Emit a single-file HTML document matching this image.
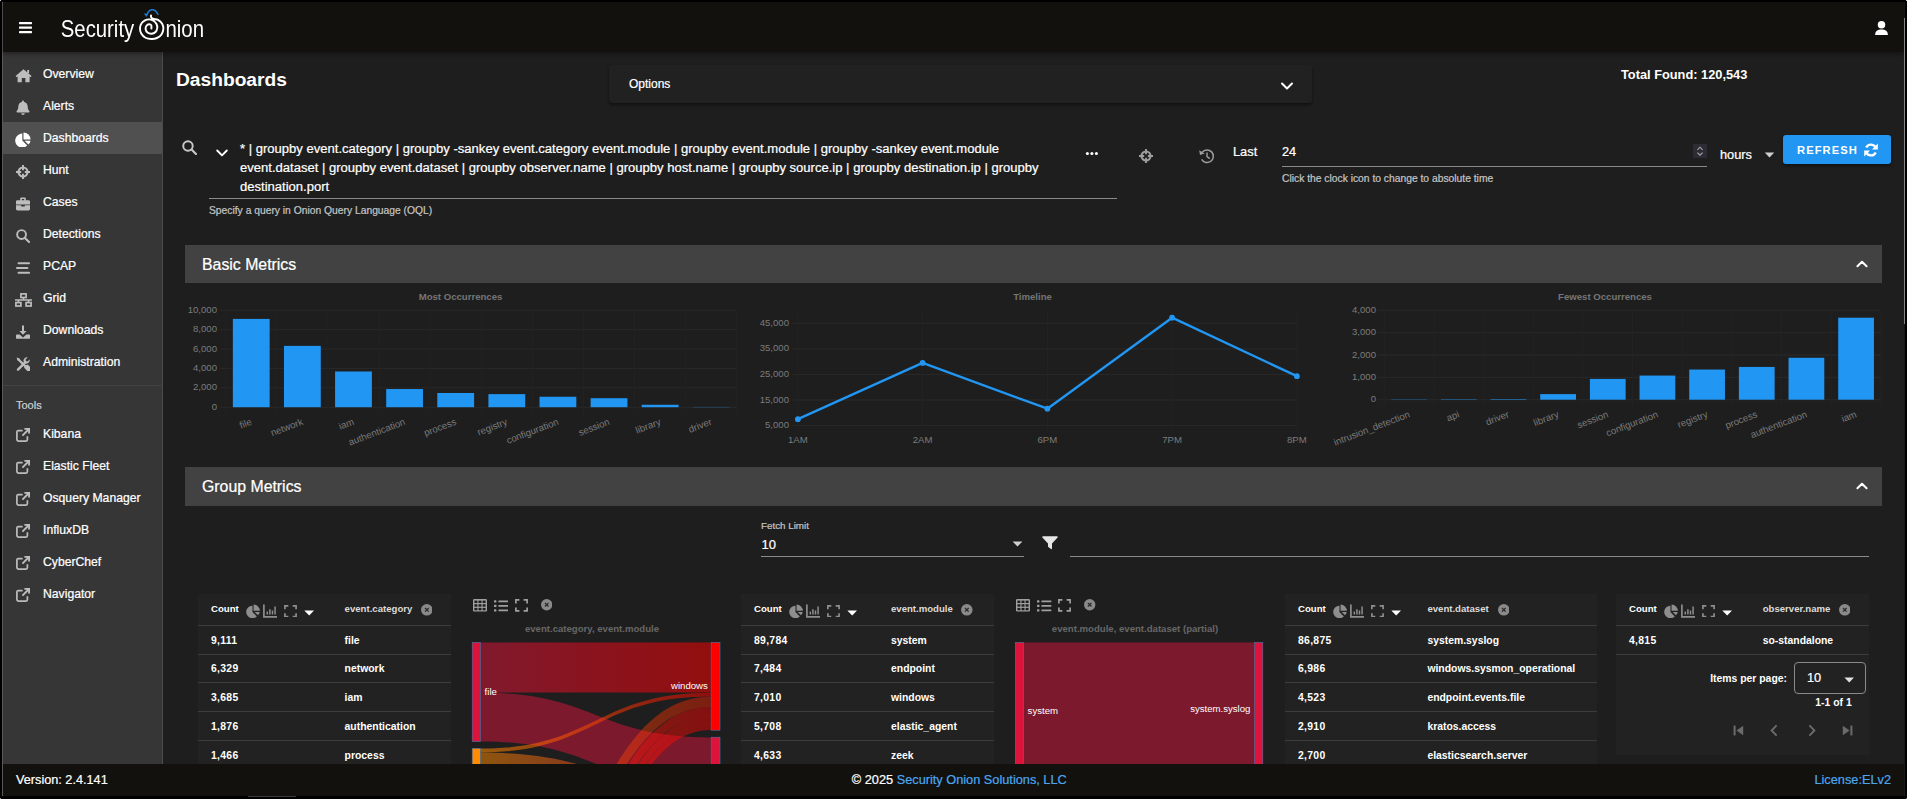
<!DOCTYPE html>
<html><head><meta charset="utf-8"><title>Security Onion - Dashboards</title>
<style>
html,body{margin:0;padding:0;background:#000;overflow:hidden;}
body{width:1907px;height:799px;position:relative;font-family:"Liberation Sans",sans-serif;}
.b{position:absolute;display:block;}
.t{position:absolute;white-space:nowrap;font-family:"Liberation Sans",sans-serif;-webkit-text-stroke:0.22px currentColor;}
</style></head><body>
<div class="b" style="left:2px;top:2px;width:1px;height:794px;background:#5a5a5a;"></div>
<div class="b" style="left:3px;top:2px;width:1901px;height:794px;background:#1e1e1e;"></div>
<div class="b" style="left:1904px;top:2px;width:1px;height:794px;background:#17181c;"></div>
<div class="b" style="left:3px;top:2px;width:1901px;height:50px;background:#12110d;box-shadow:0 2px 4px rgba(0,0,0,.35);z-index:5;"></div>
<svg class="b" style="left:19px;top:21px;z-index:6;" width="14" height="13" viewBox="0 0 14 13"><rect x="0" y="1" width="13" height="2.2" rx="0.6" fill="#fff"/><rect x="0" y="5.5" width="13" height="2.2" rx="0.6" fill="#fff"/><rect x="0" y="10" width="13" height="2.2" rx="0.6" fill="#fff"/></svg>
<svg class="b" style="left:50px;top:2px;z-index:6;opacity:0.999;" width="170" height="50" viewBox="0 0 170 50"><defs><mask id="lm" maskUnits="userSpaceOnUse" x="0" y="0" width="170" height="50"><g font-family="Liberation Sans, sans-serif" font-size="23.4" fill="#fff"><text x="10.8" y="35.1" textLength="73.4" lengthAdjust="spacingAndGlyphs">Security</text><text x="115.4" y="35.1" textLength="38.6" lengthAdjust="spacingAndGlyphs">nion</text></g></mask></defs><rect x="0" y="0" width="170" height="50" fill="#fff" mask="url(#lm)"/><path d="M101.00 13.40 C101.04 13.75 100.83 14.90 101.25 15.50 C101.67 16.10 102.38 16.60 103.50 17.00 C104.62 17.40 106.58 17.15 108.00 17.90 C109.42 18.65 111.10 20.07 112.00 21.50 C112.90 22.93 113.48 24.67 113.40 26.50 C113.32 28.33 112.57 30.92 111.50 32.50 C110.43 34.08 108.67 35.25 107.00 36.00 C105.33 36.75 103.42 37.04 101.50 37.00 C99.58 36.96 97.21 36.67 95.50 35.75 C93.79 34.83 92.17 33.12 91.25 31.50 C90.33 29.88 89.92 27.75 90.00 26.00 C90.08 24.25 90.83 22.32 91.75 21.00 C92.67 19.68 94.21 18.70 95.50 18.10 C96.79 17.50 98.17 17.29 99.50 17.40 C100.83 17.51 102.33 17.98 103.50 18.75 C104.67 19.52 105.88 20.79 106.50 22.00 C107.12 23.21 107.42 24.67 107.25 26.00 C107.08 27.33 106.46 29.04 105.50 30.00 C104.54 30.96 102.83 31.67 101.50 31.75 C100.17 31.83 98.48 31.29 97.50 30.50 C96.52 29.71 95.77 28.12 95.60 27.00 C95.43 25.88 95.93 24.54 96.50 23.75 C97.07 22.96 98.21 22.33 99.00 22.25 C99.79 22.17 100.85 22.54 101.25 23.25 C101.65 23.96 101.38 25.96 101.40 26.50" fill="none" stroke="#fff" stroke-width="1.95" stroke-linecap="round"/><path d="M96.90 13.10 C97.21 12.46 97.90 10.16 98.75 9.25 C99.60 8.34 100.88 7.71 102.00 7.65 C103.12 7.59 104.46 8.05 105.50 8.90 C106.54 9.75 107.79 12.11 108.25 12.75" fill="none" stroke="#1f7ad6" stroke-width="1.5" stroke-linecap="butt"/><path d="M93.90 11.30 L97.90 12.00 L96.15 15.10 z" fill="#1f7ad6"/></svg>
<svg class="b" style="left:1873.8px;top:19.6px;z-index:6;" width="15" height="16" viewBox="0 0 16 17"><circle cx="8" cy="5" r="4" fill="#fff"/><path d="M1.2 16 C1.2 11.8 3.8 10 8 10 C12.2 10 14.8 11.8 14.8 16 z" fill="#fff"/></svg>
<div class="b" style="left:1904px;top:18px;width:1px;height:306px;background:#858585;z-index:9;"></div>
<div class="b" style="left:3px;top:52px;width:159px;height:712px;background:#363636;"></div>
<div class="b" style="left:162px;top:52px;width:1px;height:712px;background:#4c4c4c;"></div>
<div class="b" style="left:3px;top:122px;width:159px;height:32px;background:#505050;"></div>
<svg class="b" style="left:14.8px;top:68.0px;" width="17" height="15" viewBox="0 0 17 15"><path fill="#bdbdbd" d="M8.5 1.2 L16.6 8.1 L15.6 9.3 L14.6 8.5 V14.2 H10.4 V10 H6.8 V14.2 H2.6 V8.5 L1.6 9.3 L0.6 8.1 Z"/><rect fill="#bdbdbd" x="12.2" y="2" width="1.9" height="3.2"/></svg>
<div class="t" style="left:43px;top:64.0px;font-size:12.2px;line-height:20px;color:#fff;font-weight:normal;">Overview</div>
<svg class="b" style="left:16.3px;top:100.0px;" width="14" height="15" viewBox="0 0 14 15"><path fill="#bdbdbd" d="M7 0.6 a1 1 0 0 1 1 1 v0.4 c2.3 0.45 3.7 2.3 3.7 4.6 c0 2.6 0.9 3.6 1.6 4.4 c0.5 0.6 0.1 1.4 -0.6 1.4 H1.3 c-0.7 0 -1.1 -0.8 -0.6 -1.4 c0.7 -0.8 1.6 -1.8 1.6 -4.4 c0 -2.3 1.4 -4.15 3.7 -4.6 v-0.4 a1 1 0 0 1 1 -1 z M5.2 13.2 h3.6 a1.8 1.8 0 0 1 -3.6 0 z"/></svg>
<div class="t" style="left:43px;top:96.0px;font-size:12.2px;line-height:20px;color:#fff;font-weight:normal;">Alerts</div>
<svg class="b" style="left:15.3px;top:132.0px;" width="16" height="15" viewBox="0 0 16 15"><path fill="#fff" d="M7.3 1.6 V8.6 L12.2 13.5 A7 7 0 1 1 7.3 1.6 z"/><path fill="#fff" d="M8.5 0.4 A7 7 0 0 1 15.5 7.4 H8.5 z"/><path fill="#fff" d="M9.6 8.7 H15.5 A7 7 0 0 1 13.4 12.6 z"/></svg>
<div class="t" style="left:43px;top:128.0px;font-size:12.2px;line-height:20px;color:#fff;font-weight:normal;">Dashboards</div>
<svg class="b" style="left:16.3px;top:164.5px;" width="14" height="14" viewBox="0 0 14 14"><circle cx="7" cy="7" r="4.5" fill="none" stroke="#bdbdbd" stroke-width="2.1"/><path stroke="#bdbdbd" stroke-width="1.9" d="M7 0 V5.2 M7 8.8 V14 M0 7 H5.2 M8.8 7 H14" fill="none"/></svg>
<div class="t" style="left:43px;top:160.0px;font-size:12.2px;line-height:20px;color:#fff;font-weight:normal;">Hunt</div>
<svg class="b" style="left:16.3px;top:196.5px;" width="14" height="14" viewBox="0 0 14 14"><path fill="#bdbdbd" d="M4.2 3.2 V1.6 a1 1 0 0 1 1 -1 h3.6 a1 1 0 0 1 1 1 V3.2 h2.8 a1.4 1.4 0 0 1 1.4 1.4 V7.4 H0 V4.6 a1.4 1.4 0 0 1 1.4 -1.4 z M5.8 2.1 V3.2 H8.2 V2.1 z"/><path fill="#bdbdbd" d="M0 8.3 H5.2 V9.6 H8.8 V8.3 H14 V12 a1.4 1.4 0 0 1 -1.4 1.4 H1.4 a1.4 1.4 0 0 1 -1.4 -1.4 z"/></svg>
<div class="t" style="left:43px;top:192.0px;font-size:12.2px;line-height:20px;color:#fff;font-weight:normal;">Cases</div>
<svg class="b" style="left:16.3px;top:228.5px;" width="14" height="14" viewBox="0 0 14.6 14.6"><circle cx="5.8" cy="5.8" r="4.6" fill="none" stroke="#bdbdbd" stroke-width="2.0"/><path d="M9.3 9.3 L13.6 13.6" stroke="#bdbdbd" stroke-width="2.2" stroke-linecap="round"/></svg>
<div class="t" style="left:43px;top:224.0px;font-size:12.2px;line-height:20px;color:#fff;font-weight:normal;">Detections</div>
<svg class="b" style="left:16.3px;top:260.5px;" width="14" height="14" viewBox="0 0 14 14"><rect fill="#bdbdbd" x="1.6" y="1.2" width="12.4" height="2" rx="0.9"/><rect fill="#bdbdbd" x="0" y="6" width="12.4" height="2" rx="0.9"/><rect fill="#bdbdbd" x="1.6" y="10.8" width="12.4" height="2" rx="0.9"/></svg>
<div class="t" style="left:43px;top:256.0px;font-size:12.2px;line-height:20px;color:#fff;font-weight:normal;">PCAP</div>
<svg class="b" style="left:14.8px;top:292.5px;" width="17" height="14" viewBox="0 0 17 14"><rect x="5.9" y="0.9" width="5.2" height="3.6" fill="none" stroke="#bdbdbd" stroke-width="1.7"/><rect x="0.9" y="9.6" width="5" height="3.4" fill="none" stroke="#bdbdbd" stroke-width="1.7"/><rect x="11.1" y="9.6" width="5" height="3.4" fill="none" stroke="#bdbdbd" stroke-width="1.7"/><path d="M0 7.1 H17 M8.5 4.6 V7.1 M3.4 7.1 V9 M13.6 7.1 V9" stroke="#bdbdbd" stroke-width="1.5" fill="none"/></svg>
<div class="t" style="left:43px;top:288.0px;font-size:12.2px;line-height:20px;color:#fff;font-weight:normal;">Grid</div>
<svg class="b" style="left:16.3px;top:324.5px;" width="14" height="14" viewBox="0 0 14 14"><path fill="#bdbdbd" d="M6 0.4 H8 V6 H10.6 L7 9.8 L3.4 6 H6 z"/><path fill="#bdbdbd" d="M0.9 9.6 H3.6 L7 12.6 L10.4 9.6 H13.1 a0.9 0.9 0 0 1 0.9 0.9 V12.9 a0.9 0.9 0 0 1 -0.9 0.9 H0.9 a0.9 0.9 0 0 1 -0.9 -0.9 V10.5 a0.9 0.9 0 0 1 0.9 -0.9 z"/></svg>
<div class="t" style="left:43px;top:320.0px;font-size:12.2px;line-height:20px;color:#fff;font-weight:normal;">Downloads</div>
<svg class="b" style="left:16.3px;top:356.5px;" width="14" height="14" viewBox="0 0 14 14"><path d="M2.2 2.2 L12.4 12.4" stroke="#bdbdbd" stroke-width="2.2" stroke-linecap="round"/><path d="M0.5 0.5 L3.4 1.6 L4.2 4.2 L1.6 3.4 z" fill="#bdbdbd"/><path d="M9.6 10.4 L12.2 13 a1 1 0 0 0 1.6 -1.6 L11.2 8.8" stroke="#bdbdbd" stroke-width="2.6" fill="none" stroke-linecap="round"/><path d="M2 12.6 L9.2 5.4" stroke="#bdbdbd" stroke-width="2.4" stroke-linecap="round"/><path d="M13.6 2.4 L11.6 4.4 L9.9 4.1 L9.6 2.4 L11.6 0.4 A3.4 3.4 0 0 0 7.6 4.6 L8.6 6.4 L10.4 6.6 A3.4 3.4 0 0 0 13.6 2.4 z" fill="#bdbdbd"/></svg>
<div class="t" style="left:43px;top:352.0px;font-size:12.2px;line-height:20px;color:#fff;font-weight:normal;">Administration</div>
<div class="b" style="left:3px;top:385px;width:159px;height:1px;background:#424242;"></div>
<div class="t" style="left:16px;top:395.0px;font-size:11px;line-height:20px;color:#d0d0d0;font-weight:normal;">Tools</div>
<svg class="b" style="left:16px;top:428px;" width="14" height="14" viewBox="0 0 14 14"><path d="M6.6 2.6 H2.4 a1.5 1.5 0 0 0 -1.5 1.5 V11.6 a1.5 1.5 0 0 0 1.5 1.5 H9.9 a1.5 1.5 0 0 0 1.5 -1.5 V8.2" fill="none" stroke="#bdbdbd" stroke-width="1.7"/><path d="M8.4 0.9 H13.1 V5.6 M13 1 L6.4 7.6" fill="none" stroke="#bdbdbd" stroke-width="1.9"/></svg>
<div class="t" style="left:43px;top:424.0px;font-size:12.2px;line-height:20px;color:#fff;font-weight:normal;">Kibana</div>
<svg class="b" style="left:16px;top:460px;" width="14" height="14" viewBox="0 0 14 14"><path d="M6.6 2.6 H2.4 a1.5 1.5 0 0 0 -1.5 1.5 V11.6 a1.5 1.5 0 0 0 1.5 1.5 H9.9 a1.5 1.5 0 0 0 1.5 -1.5 V8.2" fill="none" stroke="#bdbdbd" stroke-width="1.7"/><path d="M8.4 0.9 H13.1 V5.6 M13 1 L6.4 7.6" fill="none" stroke="#bdbdbd" stroke-width="1.9"/></svg>
<div class="t" style="left:43px;top:456.0px;font-size:12.2px;line-height:20px;color:#fff;font-weight:normal;">Elastic Fleet</div>
<svg class="b" style="left:16px;top:492px;" width="14" height="14" viewBox="0 0 14 14"><path d="M6.6 2.6 H2.4 a1.5 1.5 0 0 0 -1.5 1.5 V11.6 a1.5 1.5 0 0 0 1.5 1.5 H9.9 a1.5 1.5 0 0 0 1.5 -1.5 V8.2" fill="none" stroke="#bdbdbd" stroke-width="1.7"/><path d="M8.4 0.9 H13.1 V5.6 M13 1 L6.4 7.6" fill="none" stroke="#bdbdbd" stroke-width="1.9"/></svg>
<div class="t" style="left:43px;top:488.0px;font-size:12.2px;line-height:20px;color:#fff;font-weight:normal;">Osquery Manager</div>
<svg class="b" style="left:16px;top:524px;" width="14" height="14" viewBox="0 0 14 14"><path d="M6.6 2.6 H2.4 a1.5 1.5 0 0 0 -1.5 1.5 V11.6 a1.5 1.5 0 0 0 1.5 1.5 H9.9 a1.5 1.5 0 0 0 1.5 -1.5 V8.2" fill="none" stroke="#bdbdbd" stroke-width="1.7"/><path d="M8.4 0.9 H13.1 V5.6 M13 1 L6.4 7.6" fill="none" stroke="#bdbdbd" stroke-width="1.9"/></svg>
<div class="t" style="left:43px;top:520.0px;font-size:12.2px;line-height:20px;color:#fff;font-weight:normal;">InfluxDB</div>
<svg class="b" style="left:16px;top:556px;" width="14" height="14" viewBox="0 0 14 14"><path d="M6.6 2.6 H2.4 a1.5 1.5 0 0 0 -1.5 1.5 V11.6 a1.5 1.5 0 0 0 1.5 1.5 H9.9 a1.5 1.5 0 0 0 1.5 -1.5 V8.2" fill="none" stroke="#bdbdbd" stroke-width="1.7"/><path d="M8.4 0.9 H13.1 V5.6 M13 1 L6.4 7.6" fill="none" stroke="#bdbdbd" stroke-width="1.9"/></svg>
<div class="t" style="left:43px;top:552.0px;font-size:12.2px;line-height:20px;color:#fff;font-weight:normal;">CyberChef</div>
<svg class="b" style="left:16px;top:588px;" width="14" height="14" viewBox="0 0 14 14"><path d="M6.6 2.6 H2.4 a1.5 1.5 0 0 0 -1.5 1.5 V11.6 a1.5 1.5 0 0 0 1.5 1.5 H9.9 a1.5 1.5 0 0 0 1.5 -1.5 V8.2" fill="none" stroke="#bdbdbd" stroke-width="1.7"/><path d="M8.4 0.9 H13.1 V5.6 M13 1 L6.4 7.6" fill="none" stroke="#bdbdbd" stroke-width="1.9"/></svg>
<div class="t" style="left:43px;top:584.0px;font-size:12.2px;line-height:20px;color:#fff;font-weight:normal;">Navigator</div>
<div class="t" style="left:176px;top:66.5px;font-size:19.2px;line-height:26px;color:#fff;font-weight:bold;-webkit-text-stroke:0;">Dashboards</div>
<div class="b" style="left:609px;top:65px;width:703px;height:37.6px;background:#212121;border-radius:3px;box-shadow:0 2px 3px rgba(0,0,0,.45);"></div>
<div class="t" style="left:629px;top:74.0px;font-size:12px;line-height:20px;color:#fff;font-weight:normal;">Options</div>
<svg class="b" style="left:1280px;top:80px;" width="14" height="12" viewBox="0 0 14 12"><path d="M2 3.5 L7 8.5 L12 3.5" fill="none" stroke="#fff" stroke-width="2" stroke-linecap="round" stroke-linejoin="round"/></svg>
<div class="t" style="left:1621px;top:64.5px;font-size:12.8px;line-height:20px;color:#fff;font-weight:bold;-webkit-text-stroke:0;">Total Found: 120,543</div>
<svg class="b" style="left:182px;top:139.5px;" width="15" height="15" viewBox="0 0 14.6 14.6"><circle cx="5.8" cy="5.8" r="4.6" fill="none" stroke="#c8c8c8" stroke-width="1.9"/><path d="M9.3 9.3 L13.6 13.6" stroke="#c8c8c8" stroke-width="2.1" stroke-linecap="round"/></svg>
<svg class="b" style="left:215px;top:147px;" width="14" height="12" viewBox="0 0 14 12"><path d="M2.2 3.5 L7 8.3 L11.8 3.5" fill="none" stroke="#fff" stroke-width="1.9" stroke-linecap="round" stroke-linejoin="round"/></svg>
<div class="t" style="left:240px;top:138.5px;font-size:13.06px;line-height:20px;color:#fff;font-weight:normal;">* | groupby event.category | groupby -sankey event.category event.module | groupby event.module | groupby -sankey event.module</div>
<div class="t" style="left:240px;top:157.5px;font-size:13.06px;line-height:20px;color:#fff;font-weight:normal;">event.dataset | groupby event.dataset | groupby observer.name | groupby host.name | groupby source.ip | groupby destination.ip | groupby</div>
<div class="t" style="left:240px;top:176.5px;font-size:13.06px;line-height:20px;color:#fff;font-weight:normal;">destination.port</div>
<div class="b" style="left:209px;top:198px;width:908px;height:1px;background:#8a8a8a;"></div>
<div class="t" style="left:209px;top:200.6px;font-size:10.3px;line-height:20px;color:#c4c4c4;font-weight:normal;">Specify a query in Onion Query Language (OQL)</div>
<svg class="b" style="left:1085px;top:151px;" width="14" height="5" viewBox="0 0 14 5"><circle cx="2.4" cy="2.5" r="1.55" fill="#fff"/><circle cx="6.9" cy="2.5" r="1.55" fill="#fff"/><circle cx="11.4" cy="2.5" r="1.55" fill="#fff"/></svg>
<svg class="b" style="left:1139px;top:149px;" width="14" height="14" viewBox="0 0 14 14"><circle cx="7" cy="7" r="4.5" fill="none" stroke="#9e9e9e" stroke-width="2.1"/><path stroke="#9e9e9e" stroke-width="1.9" d="M7 0 V5.2 M7 8.8 V14 M0 7 H5.2 M8.8 7 H14" fill="none"/></svg>
<svg class="b" style="left:1198px;top:147px;" width="18" height="18" viewBox="0 0 18 18"><path d="M4.2 5.2 A6.3 6.3 0 1 1 3.6 12.4" fill="none" stroke="#9e9e9e" stroke-width="1.5"/><path d="M1.2 3.2 L2 8 L6.6 6.6 z" fill="#9e9e9e"/><path d="M9 5.6 V9.6 L11.8 11.6" fill="none" stroke="#9e9e9e" stroke-width="1.4"/></svg>
<div class="t" style="left:1233px;top:141.5px;font-size:12.8px;line-height:20px;color:#fff;font-weight:normal;">Last</div>
<div class="t" style="left:1282px;top:141.5px;font-size:12.8px;line-height:20px;color:#fff;font-weight:normal;">24</div>
<div class="b" style="left:1282px;top:166px;width:425px;height:1px;background:#8a8a8a;"></div>
<div class="b" style="left:1693px;top:144px;width:14px;height:14px;background:#2d2c35;"></div>
<svg class="b" style="left:1693px;top:144px;" width="14" height="14" viewBox="0 0 14 14"><path d="M4.4 5.8 L7 3.2 L9.6 5.8 M4.4 8.6 L7 11.2 L9.6 8.6" fill="none" stroke="#a8a8a8" stroke-width="1.1"/></svg>
<div class="t" style="left:1282px;top:169.0px;font-size:10.3px;line-height:20px;color:#c4c4c4;font-weight:normal;">Click the clock icon to change to absolute time</div>
<div class="t" style="left:1720px;top:144.5px;font-size:12.8px;line-height:20px;color:#fff;font-weight:normal;">hours</div>
<svg class="b" style="left:1764px;top:152px;" width="11" height="6" viewBox="0 0 11 6"><path d="M0.8 0.6 H10.2 L5.5 5.4 z" fill="#cfcfcf"/></svg>
<div class="b" style="left:1783px;top:135px;width:108px;height:29px;background:#2196f3;border-radius:3px;box-shadow:0 2px 3px rgba(0,0,0,.4);"></div>
<div class="t" style="left:1797px;top:140.0px;font-size:11.2px;line-height:20px;color:#fff;font-weight:bold;-webkit-text-stroke:0;letter-spacing:1.05px;">REFRESH</div>
<svg class="b" style="left:1864px;top:143px;" width="14" height="14" viewBox="0 0 14 14"><path d="M11.8 5.2 A5.1 5.1 0 0 0 2.3 4.6" fill="none" stroke="#fff" stroke-width="2.4"/><path d="M13.8 0.6 V6.4 H8 z" fill="#fff"/><path d="M2.2 8.8 A5.1 5.1 0 0 0 11.7 9.4" fill="none" stroke="#fff" stroke-width="2.4"/><path d="M0.2 13.4 V7.6 H6 z" fill="#fff"/></svg>
<div class="b" style="left:185px;top:245.4px;width:1697px;height:37.5px;background:#424242;"></div>
<div class="t" style="left:202px;top:252.64999999999998px;font-size:15.85px;line-height:24px;color:#fff;font-weight:normal;">Basic Metrics</div>
<svg class="b" style="left:1855px;top:258.15px;" width="14" height="12" viewBox="0 0 14 12"><path d="M2.4 8.3 L7 3.7 L11.6 8.3" fill="none" stroke="#fff" stroke-width="2" stroke-linecap="round" stroke-linejoin="round"/></svg>
<div class="b" style="left:185px;top:466.8px;width:1697px;height:38.9px;background:#424242;"></div>
<div class="t" style="left:202px;top:474.75px;font-size:15.85px;line-height:24px;color:#fff;font-weight:normal;">Group Metrics</div>
<svg class="b" style="left:1855px;top:480.25px;" width="14" height="12" viewBox="0 0 14 12"><path d="M2.4 8.3 L7 3.7 L11.6 8.3" fill="none" stroke="#fff" stroke-width="2" stroke-linecap="round" stroke-linejoin="round"/></svg>
<div class="t" style="left:60.5px;width:800px;text-align:center;top:287.0px;font-size:9.6px;line-height:20px;color:#757575;font-weight:bold;-webkit-text-stroke:0;">Most Occurrences</div>
<div class="t" style="left:632.5px;width:800px;text-align:center;top:287.0px;font-size:9.6px;line-height:20px;color:#757575;font-weight:bold;-webkit-text-stroke:0;">Timeline</div>
<div class="t" style="left:1205px;width:800px;text-align:center;top:287.0px;font-size:9.6px;line-height:20px;color:#757575;font-weight:bold;-webkit-text-stroke:0;">Fewest Occurrences</div>
<svg class="b" style="left:0;top:0;-webkit-text-stroke:0.15px #7c7c7c;" width="1907" height="466" viewBox="0 0 1907 466" font-family="Liberation Sans, sans-serif"><rect x="219.7" y="406.70" width="517.0999999999999" height="1" fill="#2a2a2a"/><text x="217" y="409.70" text-anchor="end" font-size="9.6" fill="#7c7c7c">0</text><rect x="219.7" y="387.32" width="517.0999999999999" height="1" fill="#2a2a2a"/><text x="217" y="390.32" text-anchor="end" font-size="9.6" fill="#7c7c7c">2,000</text><rect x="219.7" y="367.94" width="517.0999999999999" height="1" fill="#2a2a2a"/><text x="217" y="370.94" text-anchor="end" font-size="9.6" fill="#7c7c7c">4,000</text><rect x="219.7" y="348.56" width="517.0999999999999" height="1" fill="#2a2a2a"/><text x="217" y="351.56" text-anchor="end" font-size="9.6" fill="#7c7c7c">6,000</text><rect x="219.7" y="329.18" width="517.0999999999999" height="1" fill="#2a2a2a"/><text x="217" y="332.18" text-anchor="end" font-size="9.6" fill="#7c7c7c">8,000</text><rect x="219.7" y="309.80" width="517.0999999999999" height="1" fill="#2a2a2a"/><text x="217" y="312.80" text-anchor="end" font-size="9.6" fill="#7c7c7c">10,000</text><rect x="225.20" y="310.3" width="1" height="102.89999999999998" fill="#232323"/><rect x="276.31" y="310.3" width="1" height="102.89999999999998" fill="#232323"/><rect x="327.42" y="310.3" width="1" height="102.89999999999998" fill="#232323"/><rect x="378.53" y="310.3" width="1" height="102.89999999999998" fill="#232323"/><rect x="429.64" y="310.3" width="1" height="102.89999999999998" fill="#232323"/><rect x="480.75" y="310.3" width="1" height="102.89999999999998" fill="#232323"/><rect x="531.86" y="310.3" width="1" height="102.89999999999998" fill="#232323"/><rect x="582.97" y="310.3" width="1" height="102.89999999999998" fill="#232323"/><rect x="634.08" y="310.3" width="1" height="102.89999999999998" fill="#232323"/><rect x="685.19" y="310.3" width="1" height="102.89999999999998" fill="#232323"/><rect x="736.30" y="310.3" width="1" height="102.89999999999998" fill="#232323"/><rect x="232.86" y="318.91" width="36.80" height="88.29" fill="#2196f3"/><text transform="translate(251.45,421.50) rotate(-21)" text-anchor="end" font-size="9.6" fill="#7c7c7c" dy="3">file</text><rect x="283.97" y="345.87" width="36.80" height="61.33" fill="#2196f3"/><text transform="translate(302.56,421.50) rotate(-21)" text-anchor="end" font-size="9.6" fill="#7c7c7c" dy="3">network</text><rect x="335.08" y="371.49" width="36.80" height="35.71" fill="#2196f3"/><text transform="translate(353.68,421.50) rotate(-21)" text-anchor="end" font-size="9.6" fill="#7c7c7c" dy="3">iam</text><rect x="386.19" y="389.02" width="36.80" height="18.18" fill="#2196f3"/><text transform="translate(404.78,421.50) rotate(-21)" text-anchor="end" font-size="9.6" fill="#7c7c7c" dy="3">authentication</text><rect x="437.30" y="392.99" width="36.80" height="14.21" fill="#2196f3"/><text transform="translate(455.89,421.50) rotate(-21)" text-anchor="end" font-size="9.6" fill="#7c7c7c" dy="3">process</text><rect x="488.41" y="394.12" width="36.80" height="13.08" fill="#2196f3"/><text transform="translate(507.00,421.50) rotate(-21)" text-anchor="end" font-size="9.6" fill="#7c7c7c" dy="3">registry</text><rect x="539.52" y="396.73" width="36.80" height="10.47" fill="#2196f3"/><text transform="translate(558.12,421.50) rotate(-21)" text-anchor="end" font-size="9.6" fill="#7c7c7c" dy="3">configuration</text><rect x="590.63" y="398.19" width="36.80" height="9.01" fill="#2196f3"/><text transform="translate(609.23,421.50) rotate(-21)" text-anchor="end" font-size="9.6" fill="#7c7c7c" dy="3">session</text><rect x="641.74" y="404.78" width="36.80" height="2.42" fill="#2196f3"/><text transform="translate(660.34,421.50) rotate(-21)" text-anchor="end" font-size="9.6" fill="#7c7c7c" dy="3">library</text><rect x="692.85" y="406.96" width="36.80" height="0.24" fill="#2196f3"/><text transform="translate(711.45,421.50) rotate(-21)" text-anchor="end" font-size="9.6" fill="#7c7c7c" dy="3">driver</text><rect x="791.9" y="322.8" width="505.0000000000001" height="1" fill="#2a2a2a"/><text x="789" y="325.8" text-anchor="end" font-size="9.6" fill="#7c7c7c">45,000</text><rect x="791.9" y="348.4" width="505.0000000000001" height="1" fill="#2a2a2a"/><text x="789" y="351.4" text-anchor="end" font-size="9.6" fill="#7c7c7c">35,000</text><rect x="791.9" y="373.9" width="505.0000000000001" height="1" fill="#2a2a2a"/><text x="789" y="376.9" text-anchor="end" font-size="9.6" fill="#7c7c7c">25,000</text><rect x="791.9" y="399.5" width="505.0000000000001" height="1" fill="#2a2a2a"/><text x="789" y="402.5" text-anchor="end" font-size="9.6" fill="#7c7c7c">15,000</text><rect x="791.9" y="425.1" width="505.0000000000001" height="1" fill="#2a2a2a"/><text x="789" y="428.1" text-anchor="end" font-size="9.6" fill="#7c7c7c">5,000</text><rect x="797.4" y="310" width="1" height="121" fill="#232323"/><text x="797.9" y="443.2" text-anchor="middle" font-size="9.6" fill="#7c7c7c">1AM</text><rect x="922.1" y="310" width="1" height="121" fill="#232323"/><text x="922.6" y="443.2" text-anchor="middle" font-size="9.6" fill="#7c7c7c">2AM</text><rect x="1046.9" y="310" width="1" height="121" fill="#232323"/><text x="1047.4" y="443.2" text-anchor="middle" font-size="9.6" fill="#7c7c7c">6PM</text><rect x="1171.6" y="310" width="1" height="121" fill="#232323"/><text x="1172.1" y="443.2" text-anchor="middle" font-size="9.6" fill="#7c7c7c">7PM</text><rect x="1296.4" y="310" width="1" height="121" fill="#232323"/><text x="1296.9" y="443.2" text-anchor="middle" font-size="9.6" fill="#7c7c7c">8PM</text><polyline points="797.9,419.2 922.6,362.9 1047.4,408.7 1172.1,317.7 1296.9,376.2" fill="none" stroke="#2196f3" stroke-width="2.4" stroke-linejoin="round"/><circle cx="797.9" cy="419.2" r="2.9" fill="#2196f3"/><circle cx="922.6" cy="362.9" r="2.9" fill="#2196f3"/><circle cx="1047.4" cy="408.7" r="2.9" fill="#2196f3"/><circle cx="1172.1" cy="317.7" r="2.9" fill="#2196f3"/><circle cx="1296.9" cy="376.2" r="2.9" fill="#2196f3"/><rect x="1378.3" y="399.20" width="502.60000000000014" height="1" fill="#2a2a2a"/><text x="1376" y="402.20" text-anchor="end" font-size="9.6" fill="#7c7c7c">0</text><rect x="1378.3" y="376.85" width="502.60000000000014" height="1" fill="#2a2a2a"/><text x="1376" y="379.85" text-anchor="end" font-size="9.6" fill="#7c7c7c">1,000</text><rect x="1378.3" y="354.50" width="502.60000000000014" height="1" fill="#2a2a2a"/><text x="1376" y="357.50" text-anchor="end" font-size="9.6" fill="#7c7c7c">2,000</text><rect x="1378.3" y="332.15" width="502.60000000000014" height="1" fill="#2a2a2a"/><text x="1376" y="335.15" text-anchor="end" font-size="9.6" fill="#7c7c7c">3,000</text><rect x="1378.3" y="309.80" width="502.60000000000014" height="1" fill="#2a2a2a"/><text x="1376" y="312.80" text-anchor="end" font-size="9.6" fill="#7c7c7c">4,000</text><rect x="1383.80" y="310.3" width="1" height="95.39999999999998" fill="#232323"/><rect x="1433.46" y="310.3" width="1" height="95.39999999999998" fill="#232323"/><rect x="1483.12" y="310.3" width="1" height="95.39999999999998" fill="#232323"/><rect x="1532.78" y="310.3" width="1" height="95.39999999999998" fill="#232323"/><rect x="1582.44" y="310.3" width="1" height="95.39999999999998" fill="#232323"/><rect x="1632.10" y="310.3" width="1" height="95.39999999999998" fill="#232323"/><rect x="1681.76" y="310.3" width="1" height="95.39999999999998" fill="#232323"/><rect x="1731.42" y="310.3" width="1" height="95.39999999999998" fill="#232323"/><rect x="1781.08" y="310.3" width="1" height="95.39999999999998" fill="#232323"/><rect x="1830.74" y="310.3" width="1" height="95.39999999999998" fill="#232323"/><rect x="1880.40" y="310.3" width="1" height="95.39999999999998" fill="#232323"/><rect x="1391.25" y="399.43" width="35.76" height="0.27" fill="#2196f3"/><text transform="translate(1409.33,414.00) rotate(-21)" text-anchor="end" font-size="9.6" fill="#7c7c7c" dy="3">intrusion_detection</text><rect x="1440.91" y="399.30" width="35.76" height="0.40" fill="#2196f3"/><text transform="translate(1458.99,414.00) rotate(-21)" text-anchor="end" font-size="9.6" fill="#7c7c7c" dy="3">api</text><rect x="1490.57" y="399.14" width="35.76" height="0.56" fill="#2196f3"/><text transform="translate(1508.65,414.00) rotate(-21)" text-anchor="end" font-size="9.6" fill="#7c7c7c" dy="3">driver</text><rect x="1540.23" y="394.11" width="35.76" height="5.59" fill="#2196f3"/><text transform="translate(1558.31,414.00) rotate(-21)" text-anchor="end" font-size="9.6" fill="#7c7c7c" dy="3">library</text><rect x="1589.89" y="378.91" width="35.76" height="20.79" fill="#2196f3"/><text transform="translate(1607.97,414.00) rotate(-21)" text-anchor="end" font-size="9.6" fill="#7c7c7c" dy="3">session</text><rect x="1639.55" y="375.56" width="35.76" height="24.14" fill="#2196f3"/><text transform="translate(1657.63,414.00) rotate(-21)" text-anchor="end" font-size="9.6" fill="#7c7c7c" dy="3">configuration</text><rect x="1689.21" y="369.53" width="35.76" height="30.17" fill="#2196f3"/><text transform="translate(1707.29,414.00) rotate(-21)" text-anchor="end" font-size="9.6" fill="#7c7c7c" dy="3">registry</text><rect x="1738.87" y="366.93" width="35.76" height="32.77" fill="#2196f3"/><text transform="translate(1756.95,414.00) rotate(-21)" text-anchor="end" font-size="9.6" fill="#7c7c7c" dy="3">process</text><rect x="1788.53" y="357.77" width="35.76" height="41.93" fill="#2196f3"/><text transform="translate(1806.61,414.00) rotate(-21)" text-anchor="end" font-size="9.6" fill="#7c7c7c" dy="3">authentication</text><rect x="1838.19" y="317.70" width="35.76" height="82.00" fill="#2196f3"/><text transform="translate(1856.27,414.00) rotate(-21)" text-anchor="end" font-size="9.6" fill="#7c7c7c" dy="3">iam</text></svg>
<div class="t" style="left:761px;top:515.5px;font-size:9.8px;line-height:20px;color:#c4c4c4;font-weight:normal;">Fetch Limit</div>
<div class="t" style="left:761.5px;top:534.5px;font-size:13px;line-height:20px;color:#fff;font-weight:normal;">10</div>
<div class="b" style="left:761px;top:556px;width:263px;height:1px;background:#8a8a8a;"></div>
<svg class="b" style="left:1011.5px;top:541px;" width="11" height="6" viewBox="0 0 11 6"><path d="M0.6 0.5 H10.4 L5.5 5.5 z" fill="#cfcfcf"/></svg>
<svg class="b" style="left:1042px;top:536px;" width="16" height="14" viewBox="0 0 16 14"><path d="M0.9 0.3 H15.1 a0.7 0.7 0 0 1 0.5 1.2 L10 7.4 V12.6 a0.6 0.6 0 0 1 -1 0.5 L6.3 11 a0.8 0.8 0 0 1 -0.3 -0.6 V7.4 L0.4 1.5 a0.7 0.7 0 0 1 0.5 -1.2 z" fill="#e6e6e6"/></svg>
<div class="b" style="left:1070px;top:556px;width:799px;height:1px;background:#8a8a8a;"></div>
<div class="b" style="left:198px;top:593.6px;width:253px;height:200px;background:#222222;"></div>
<div class="t" style="left:211px;top:599.0px;font-size:9.6px;line-height:20px;color:#fff;font-weight:bold;-webkit-text-stroke:0;">Count</div>
<svg class="b" style="left:246.2px;top:603.5999999999999px;" width="14.4" height="14.4" viewBox="0 0 16 16"><path fill="#8e8e8e" d="M7.2 2 V8.9 L12 13.8 A6.9 6.9 0 1 1 7.2 2 z"/><path fill="#8e8e8e" d="M8.4 0.6 A7 7 0 0 1 15.4 7.6 H8.4 z"/><path fill="#8e8e8e" d="M9.6 8.8 H15.3 A7 7 0 0 1 13.3 12.6 z"/></svg><svg class="b" style="left:262.8px;top:603.8px;" width="14.4" height="14" viewBox="0 0 14.4 14"><path d="M0.9 0.5 V12.8 H14.2" fill="none" stroke="#8e8e8e" stroke-width="1.7"/><path d="M4.3 10.6 V7.6 M6.9 10.6 V5.2 M9.5 10.6 V6.6 M12.1 10.6 V2.6" fill="none" stroke="#8e8e8e" stroke-width="1.5"/></svg><svg class="b" style="left:284.4px;top:604.5px;" width="13" height="12.6" viewBox="0 0 13 12.6"><path d="M0.9 4.3 V0.9 H4.3 M8.7 0.9 H12.1 V4.3 M12.1 8.3 V11.7 H8.7 M4.3 11.7 H0.9 V8.3" fill="none" stroke="#8e8e8e" stroke-width="1.7"/></svg><svg class="b" style="left:303.5px;top:610.4px;" width="10.4" height="6" viewBox="0 0 10.4 6"><path d="M0.3 0.4 H10.1 L5.2 5.6 z" fill="#fff"/></svg>
<div class="t" style="left:344.6px;top:599.0px;font-size:9.6px;line-height:20px;color:#dcdcdc;font-weight:bold;-webkit-text-stroke:0;">event.category</div>
<svg class="b" style="left:420.8px;top:604.0px;" width="11.6" height="11.6" viewBox="0 0 12 12"><circle cx="6" cy="6" r="6" fill="#8a8a8a"/><path d="M4.1 4.1 L7.9 7.9 M7.9 4.1 L4.1 7.9" stroke="#2a2a2a" stroke-width="1.3"/></svg>
<div class="b" style="left:198px;top:625px;width:253px;height:1px;background:#3d3d3d;"></div>
<div class="t" style="left:211px;top:630.9px;font-size:10.4px;line-height:20px;color:#fff;font-weight:bold;-webkit-text-stroke:0;letter-spacing:0.3px;">9,111</div>
<div class="t" style="left:344.6px;top:630.9px;font-size:10.4px;line-height:20px;color:#fff;font-weight:bold;-webkit-text-stroke:0;">file</div>
<div class="b" style="left:198px;top:654px;width:253px;height:1px;background:#3d3d3d;"></div>
<div class="t" style="left:211px;top:659.1px;font-size:10.4px;line-height:20px;color:#fff;font-weight:bold;-webkit-text-stroke:0;letter-spacing:0.3px;">6,329</div>
<div class="t" style="left:344.6px;top:659.1px;font-size:10.4px;line-height:20px;color:#fff;font-weight:bold;-webkit-text-stroke:0;">network</div>
<div class="b" style="left:198px;top:682px;width:253px;height:1px;background:#3d3d3d;"></div>
<div class="t" style="left:211px;top:688.4px;font-size:10.4px;line-height:20px;color:#fff;font-weight:bold;-webkit-text-stroke:0;letter-spacing:0.3px;">3,685</div>
<div class="t" style="left:344.6px;top:688.4px;font-size:10.4px;line-height:20px;color:#fff;font-weight:bold;-webkit-text-stroke:0;">iam</div>
<div class="b" style="left:198px;top:711px;width:253px;height:1px;background:#3d3d3d;"></div>
<div class="t" style="left:211px;top:717.15px;font-size:10.4px;line-height:20px;color:#fff;font-weight:bold;-webkit-text-stroke:0;letter-spacing:0.3px;">1,876</div>
<div class="t" style="left:344.6px;top:717.15px;font-size:10.4px;line-height:20px;color:#fff;font-weight:bold;-webkit-text-stroke:0;">authentication</div>
<div class="b" style="left:198px;top:740px;width:253px;height:1px;background:#3d3d3d;"></div>
<div class="t" style="left:211px;top:745.9px;font-size:10.4px;line-height:20px;color:#fff;font-weight:bold;-webkit-text-stroke:0;letter-spacing:0.3px;">1,466</div>
<div class="t" style="left:344.6px;top:745.9px;font-size:10.4px;line-height:20px;color:#fff;font-weight:bold;-webkit-text-stroke:0;">process</div>
<div class="b" style="left:198px;top:769px;width:253px;height:1px;background:#3d3d3d;"></div>
<div class="t" style="left:211px;top:774.65px;font-size:10.4px;line-height:20px;color:#fff;font-weight:bold;-webkit-text-stroke:0;letter-spacing:0.3px;">1,350</div>
<div class="t" style="left:344.6px;top:774.65px;font-size:10.4px;line-height:20px;color:#fff;font-weight:bold;-webkit-text-stroke:0;">registry</div>
<div class="b" style="left:741px;top:593.6px;width:253px;height:200px;background:#222222;"></div>
<div class="t" style="left:754px;top:599.0px;font-size:9.6px;line-height:20px;color:#fff;font-weight:bold;-webkit-text-stroke:0;">Count</div>
<svg class="b" style="left:789.2px;top:603.5999999999999px;" width="14.4" height="14.4" viewBox="0 0 16 16"><path fill="#8e8e8e" d="M7.2 2 V8.9 L12 13.8 A6.9 6.9 0 1 1 7.2 2 z"/><path fill="#8e8e8e" d="M8.4 0.6 A7 7 0 0 1 15.4 7.6 H8.4 z"/><path fill="#8e8e8e" d="M9.6 8.8 H15.3 A7 7 0 0 1 13.3 12.6 z"/></svg><svg class="b" style="left:805.8000000000001px;top:603.8px;" width="14.4" height="14" viewBox="0 0 14.4 14"><path d="M0.9 0.5 V12.8 H14.2" fill="none" stroke="#8e8e8e" stroke-width="1.7"/><path d="M4.3 10.6 V7.6 M6.9 10.6 V5.2 M9.5 10.6 V6.6 M12.1 10.6 V2.6" fill="none" stroke="#8e8e8e" stroke-width="1.5"/></svg><svg class="b" style="left:827.4000000000001px;top:604.5px;" width="13" height="12.6" viewBox="0 0 13 12.6"><path d="M0.9 4.3 V0.9 H4.3 M8.7 0.9 H12.1 V4.3 M12.1 8.3 V11.7 H8.7 M4.3 11.7 H0.9 V8.3" fill="none" stroke="#8e8e8e" stroke-width="1.7"/></svg><svg class="b" style="left:846.5px;top:610.4px;" width="10.4" height="6" viewBox="0 0 10.4 6"><path d="M0.3 0.4 H10.1 L5.2 5.6 z" fill="#fff"/></svg>
<div class="t" style="left:891px;top:599.0px;font-size:9.6px;line-height:20px;color:#dcdcdc;font-weight:bold;-webkit-text-stroke:0;">event.module</div>
<svg class="b" style="left:961.4000000000001px;top:604.0px;" width="11.6" height="11.6" viewBox="0 0 12 12"><circle cx="6" cy="6" r="6" fill="#8a8a8a"/><path d="M4.1 4.1 L7.9 7.9 M7.9 4.1 L4.1 7.9" stroke="#2a2a2a" stroke-width="1.3"/></svg>
<div class="b" style="left:741px;top:625px;width:253px;height:1px;background:#3d3d3d;"></div>
<div class="t" style="left:754px;top:630.9px;font-size:10.4px;line-height:20px;color:#fff;font-weight:bold;-webkit-text-stroke:0;letter-spacing:0.3px;">89,784</div>
<div class="t" style="left:891px;top:630.9px;font-size:10.4px;line-height:20px;color:#fff;font-weight:bold;-webkit-text-stroke:0;">system</div>
<div class="b" style="left:741px;top:654px;width:253px;height:1px;background:#3d3d3d;"></div>
<div class="t" style="left:754px;top:659.1px;font-size:10.4px;line-height:20px;color:#fff;font-weight:bold;-webkit-text-stroke:0;letter-spacing:0.3px;">7,484</div>
<div class="t" style="left:891px;top:659.1px;font-size:10.4px;line-height:20px;color:#fff;font-weight:bold;-webkit-text-stroke:0;">endpoint</div>
<div class="b" style="left:741px;top:682px;width:253px;height:1px;background:#3d3d3d;"></div>
<div class="t" style="left:754px;top:688.4px;font-size:10.4px;line-height:20px;color:#fff;font-weight:bold;-webkit-text-stroke:0;letter-spacing:0.3px;">7,010</div>
<div class="t" style="left:891px;top:688.4px;font-size:10.4px;line-height:20px;color:#fff;font-weight:bold;-webkit-text-stroke:0;">windows</div>
<div class="b" style="left:741px;top:711px;width:253px;height:1px;background:#3d3d3d;"></div>
<div class="t" style="left:754px;top:717.15px;font-size:10.4px;line-height:20px;color:#fff;font-weight:bold;-webkit-text-stroke:0;letter-spacing:0.3px;">5,708</div>
<div class="t" style="left:891px;top:717.15px;font-size:10.4px;line-height:20px;color:#fff;font-weight:bold;-webkit-text-stroke:0;">elastic_agent</div>
<div class="b" style="left:741px;top:740px;width:253px;height:1px;background:#3d3d3d;"></div>
<div class="t" style="left:754px;top:745.9px;font-size:10.4px;line-height:20px;color:#fff;font-weight:bold;-webkit-text-stroke:0;letter-spacing:0.3px;">4,633</div>
<div class="t" style="left:891px;top:745.9px;font-size:10.4px;line-height:20px;color:#fff;font-weight:bold;-webkit-text-stroke:0;">zeek</div>
<div class="b" style="left:741px;top:769px;width:253px;height:1px;background:#3d3d3d;"></div>
<div class="t" style="left:754px;top:774.65px;font-size:10.4px;line-height:20px;color:#fff;font-weight:bold;-webkit-text-stroke:0;letter-spacing:0.3px;">3,401</div>
<div class="t" style="left:891px;top:774.65px;font-size:10.4px;line-height:20px;color:#fff;font-weight:bold;-webkit-text-stroke:0;">kratos</div>
<div class="b" style="left:1285px;top:593.6px;width:312px;height:200px;background:#222222;"></div>
<div class="t" style="left:1298px;top:599.0px;font-size:9.6px;line-height:20px;color:#fff;font-weight:bold;-webkit-text-stroke:0;">Count</div>
<svg class="b" style="left:1333.2px;top:603.5999999999999px;" width="14.4" height="14.4" viewBox="0 0 16 16"><path fill="#8e8e8e" d="M7.2 2 V8.9 L12 13.8 A6.9 6.9 0 1 1 7.2 2 z"/><path fill="#8e8e8e" d="M8.4 0.6 A7 7 0 0 1 15.4 7.6 H8.4 z"/><path fill="#8e8e8e" d="M9.6 8.8 H15.3 A7 7 0 0 1 13.3 12.6 z"/></svg><svg class="b" style="left:1349.8px;top:603.8px;" width="14.4" height="14" viewBox="0 0 14.4 14"><path d="M0.9 0.5 V12.8 H14.2" fill="none" stroke="#8e8e8e" stroke-width="1.7"/><path d="M4.3 10.6 V7.6 M6.9 10.6 V5.2 M9.5 10.6 V6.6 M12.1 10.6 V2.6" fill="none" stroke="#8e8e8e" stroke-width="1.5"/></svg><svg class="b" style="left:1371.4px;top:604.5px;" width="13" height="12.6" viewBox="0 0 13 12.6"><path d="M0.9 4.3 V0.9 H4.3 M8.7 0.9 H12.1 V4.3 M12.1 8.3 V11.7 H8.7 M4.3 11.7 H0.9 V8.3" fill="none" stroke="#8e8e8e" stroke-width="1.7"/></svg><svg class="b" style="left:1390.5px;top:610.4px;" width="10.4" height="6" viewBox="0 0 10.4 6"><path d="M0.3 0.4 H10.1 L5.2 5.6 z" fill="#fff"/></svg>
<div class="t" style="left:1427.4px;top:599.0px;font-size:9.6px;line-height:20px;color:#dcdcdc;font-weight:bold;-webkit-text-stroke:0;">event.dataset</div>
<svg class="b" style="left:1497.6000000000001px;top:604.0px;" width="11.6" height="11.6" viewBox="0 0 12 12"><circle cx="6" cy="6" r="6" fill="#8a8a8a"/><path d="M4.1 4.1 L7.9 7.9 M7.9 4.1 L4.1 7.9" stroke="#2a2a2a" stroke-width="1.3"/></svg>
<div class="b" style="left:1285px;top:625px;width:312px;height:1px;background:#3d3d3d;"></div>
<div class="t" style="left:1298px;top:630.9px;font-size:10.4px;line-height:20px;color:#fff;font-weight:bold;-webkit-text-stroke:0;letter-spacing:0.3px;">86,875</div>
<div class="t" style="left:1427.4px;top:630.9px;font-size:10.4px;line-height:20px;color:#fff;font-weight:bold;-webkit-text-stroke:0;">system.syslog</div>
<div class="b" style="left:1285px;top:654px;width:312px;height:1px;background:#3d3d3d;"></div>
<div class="t" style="left:1298px;top:659.1px;font-size:10.4px;line-height:20px;color:#fff;font-weight:bold;-webkit-text-stroke:0;letter-spacing:0.3px;">6,986</div>
<div class="t" style="left:1427.4px;top:659.1px;font-size:10.4px;line-height:20px;color:#fff;font-weight:bold;-webkit-text-stroke:0;">windows.sysmon_operational</div>
<div class="b" style="left:1285px;top:682px;width:312px;height:1px;background:#3d3d3d;"></div>
<div class="t" style="left:1298px;top:688.4px;font-size:10.4px;line-height:20px;color:#fff;font-weight:bold;-webkit-text-stroke:0;letter-spacing:0.3px;">4,523</div>
<div class="t" style="left:1427.4px;top:688.4px;font-size:10.4px;line-height:20px;color:#fff;font-weight:bold;-webkit-text-stroke:0;">endpoint.events.file</div>
<div class="b" style="left:1285px;top:711px;width:312px;height:1px;background:#3d3d3d;"></div>
<div class="t" style="left:1298px;top:717.15px;font-size:10.4px;line-height:20px;color:#fff;font-weight:bold;-webkit-text-stroke:0;letter-spacing:0.3px;">2,910</div>
<div class="t" style="left:1427.4px;top:717.15px;font-size:10.4px;line-height:20px;color:#fff;font-weight:bold;-webkit-text-stroke:0;">kratos.access</div>
<div class="b" style="left:1285px;top:740px;width:312px;height:1px;background:#3d3d3d;"></div>
<div class="t" style="left:1298px;top:745.9px;font-size:10.4px;line-height:20px;color:#fff;font-weight:bold;-webkit-text-stroke:0;letter-spacing:0.3px;">2,700</div>
<div class="t" style="left:1427.4px;top:745.9px;font-size:10.4px;line-height:20px;color:#fff;font-weight:bold;-webkit-text-stroke:0;">elasticsearch.server</div>
<div class="b" style="left:1285px;top:769px;width:312px;height:1px;background:#3d3d3d;"></div>
<div class="t" style="left:1298px;top:774.65px;font-size:10.4px;line-height:20px;color:#fff;font-weight:bold;-webkit-text-stroke:0;letter-spacing:0.3px;">2,400</div>
<div class="t" style="left:1427.4px;top:774.65px;font-size:10.4px;line-height:20px;color:#fff;font-weight:bold;-webkit-text-stroke:0;">zeek.conn</div>
<div class="b" style="left:1616px;top:593.6px;width:253px;height:161px;background:#222222;"></div>
<div class="t" style="left:1629px;top:599.0px;font-size:9.6px;line-height:20px;color:#fff;font-weight:bold;-webkit-text-stroke:0;">Count</div>
<svg class="b" style="left:1664.2px;top:603.5999999999999px;" width="14.4" height="14.4" viewBox="0 0 16 16"><path fill="#8e8e8e" d="M7.2 2 V8.9 L12 13.8 A6.9 6.9 0 1 1 7.2 2 z"/><path fill="#8e8e8e" d="M8.4 0.6 A7 7 0 0 1 15.4 7.6 H8.4 z"/><path fill="#8e8e8e" d="M9.6 8.8 H15.3 A7 7 0 0 1 13.3 12.6 z"/></svg><svg class="b" style="left:1680.8px;top:603.8px;" width="14.4" height="14" viewBox="0 0 14.4 14"><path d="M0.9 0.5 V12.8 H14.2" fill="none" stroke="#8e8e8e" stroke-width="1.7"/><path d="M4.3 10.6 V7.6 M6.9 10.6 V5.2 M9.5 10.6 V6.6 M12.1 10.6 V2.6" fill="none" stroke="#8e8e8e" stroke-width="1.5"/></svg><svg class="b" style="left:1702.4px;top:604.5px;" width="13" height="12.6" viewBox="0 0 13 12.6"><path d="M0.9 4.3 V0.9 H4.3 M8.7 0.9 H12.1 V4.3 M12.1 8.3 V11.7 H8.7 M4.3 11.7 H0.9 V8.3" fill="none" stroke="#8e8e8e" stroke-width="1.7"/></svg><svg class="b" style="left:1721.5px;top:610.4px;" width="10.4" height="6" viewBox="0 0 10.4 6"><path d="M0.3 0.4 H10.1 L5.2 5.6 z" fill="#fff"/></svg>
<div class="t" style="left:1762.7px;top:599.0px;font-size:9.6px;line-height:20px;color:#dcdcdc;font-weight:bold;-webkit-text-stroke:0;">observer.name</div>
<svg class="b" style="left:1838.8px;top:604.0px;" width="11.6" height="11.6" viewBox="0 0 12 12"><circle cx="6" cy="6" r="6" fill="#8a8a8a"/><path d="M4.1 4.1 L7.9 7.9 M7.9 4.1 L4.1 7.9" stroke="#2a2a2a" stroke-width="1.3"/></svg>
<div class="b" style="left:1616px;top:625px;width:253px;height:1px;background:#3d3d3d;"></div>
<div class="t" style="left:1629px;top:630.9px;font-size:10.4px;line-height:20px;color:#fff;font-weight:bold;-webkit-text-stroke:0;letter-spacing:0.3px;">4,815</div>
<div class="t" style="left:1762.7px;top:630.9px;font-size:10.4px;line-height:20px;color:#fff;font-weight:bold;-webkit-text-stroke:0;">so-standalone</div>
<div class="b" style="left:1616px;top:654px;width:253px;height:1px;background:#3d3d3d;"></div>
<div class="t" style="right:120px;top:669.3px;font-size:10.4px;line-height:20px;color:#fff;font-weight:bold;-webkit-text-stroke:0;">Items per page:</div>
<div class="b" style="left:1794px;top:662px;width:72px;height:32px;background:transparent;border:1px solid #8a8a8a;border-radius:4px;box-sizing:border-box;"></div>
<div class="t" style="left:1807px;top:668.1px;font-size:12.8px;line-height:20px;color:#fff;font-weight:normal;">10</div>
<svg class="b" style="left:1843.5px;top:677px;" width="10.5" height="6" viewBox="0 0 10.5 6"><path d="M0.4 0.4 H10.1 L5.25 5.6 z" fill="#e0e0e0"/></svg>
<div class="t" style="left:1815.3px;top:692.5px;font-size:10.4px;line-height:20px;color:#fff;font-weight:bold;-webkit-text-stroke:0;">1-1 of 1</div>
<svg class="b" style="left:1732.5px;top:725px;" width="11" height="11" viewBox="0 0 11 11"><rect x="0.6" y="0.6" width="2" height="9.8" fill="#6b6b6b"/><path d="M10.2 0.8 V10.2 L3.4 5.5 z" fill="#6b6b6b"/></svg>
<svg class="b" style="left:1768.5px;top:724px;" width="10" height="13" viewBox="0 0 10 13"><path d="M7.6 1.4 L2.6 6.5 L7.6 11.6" fill="none" stroke="#6b6b6b" stroke-width="1.9"/></svg>
<svg class="b" style="left:1806.5px;top:724px;" width="10" height="13" viewBox="0 0 10 13"><path d="M2.4 1.4 L7.4 6.5 L2.4 11.6" fill="none" stroke="#6b6b6b" stroke-width="1.9"/></svg>
<svg class="b" style="left:1841.5px;top:725px;" width="11" height="11" viewBox="0 0 11 11"><rect x="8.4" y="0.6" width="2" height="9.8" fill="#6b6b6b"/><path d="M0.8 0.8 V10.2 L7.6 5.5 z" fill="#6b6b6b"/></svg>
<svg class="b" style="left:472.8px;top:599.3000000000001px;" width="14" height="12.6" viewBox="0 0 14 12.6"><rect x="0" y="0" width="14" height="12.6" rx="1.3" fill="#a0a0a0"/><rect x="1.4" y="1.6" width="3" height="2.4" fill="#1e1e1e"/><rect x="1.4" y="5.25" width="3" height="2.4" fill="#1e1e1e"/><rect x="1.4" y="8.9" width="3" height="2.4" fill="#1e1e1e"/><rect x="5.5" y="1.6" width="3" height="2.4" fill="#1e1e1e"/><rect x="5.5" y="5.25" width="3" height="2.4" fill="#1e1e1e"/><rect x="5.5" y="8.9" width="3" height="2.4" fill="#1e1e1e"/><rect x="9.6" y="1.6" width="3" height="2.4" fill="#1e1e1e"/><rect x="9.6" y="5.25" width="3" height="2.4" fill="#1e1e1e"/><rect x="9.6" y="8.9" width="3" height="2.4" fill="#1e1e1e"/></svg><svg class="b" style="left:494.0px;top:599.6px;" width="14.4" height="12" viewBox="0 0 14.4 12"><rect x="0" y="0.2" width="2.4" height="2.4" rx="0.6" fill="#a0a0a0"/><rect x="4.4" y="0.6" width="10" height="1.7" rx="0.5" fill="#a0a0a0"/><rect x="0" y="4.7" width="2.4" height="2.4" rx="0.6" fill="#a0a0a0"/><rect x="4.4" y="5.1" width="10" height="1.7" rx="0.5" fill="#a0a0a0"/><rect x="0" y="9.2" width="2.4" height="2.4" rx="0.6" fill="#a0a0a0"/><rect x="4.4" y="9.6" width="10" height="1.7" rx="0.5" fill="#a0a0a0"/></svg><svg class="b" style="left:515.0px;top:599.2px;" width="13" height="12.8" viewBox="0 0 13 12.8"><path d="M0.9 4.4 V0.9 H4.4 M8.6 0.9 H12.1 V4.4 M12.1 8.4 V11.9 H8.6 M4.4 11.9 H0.9 V8.4" fill="none" stroke="#a0a0a0" stroke-width="1.7"/></svg>
<svg class="b" style="left:540.9px;top:599.3px;" width="11.4" height="11.4" viewBox="0 0 12 12"><circle cx="6" cy="6" r="6" fill="#8a8a8a"/><path d="M4.1 4.1 L7.9 7.9 M7.9 4.1 L4.1 7.9" stroke="#2a2a2a" stroke-width="1.3"/></svg>
<div class="t" style="left:192px;width:800px;text-align:center;top:618.8px;font-size:9.6px;line-height:20px;color:#676767;font-weight:bold;-webkit-text-stroke:0;">event.category, event.module</div>
<svg class="b" style="left:1016.2px;top:599.3000000000001px;" width="14" height="12.6" viewBox="0 0 14 12.6"><rect x="0" y="0" width="14" height="12.6" rx="1.3" fill="#a0a0a0"/><rect x="1.4" y="1.6" width="3" height="2.4" fill="#1e1e1e"/><rect x="1.4" y="5.25" width="3" height="2.4" fill="#1e1e1e"/><rect x="1.4" y="8.9" width="3" height="2.4" fill="#1e1e1e"/><rect x="5.5" y="1.6" width="3" height="2.4" fill="#1e1e1e"/><rect x="5.5" y="5.25" width="3" height="2.4" fill="#1e1e1e"/><rect x="5.5" y="8.9" width="3" height="2.4" fill="#1e1e1e"/><rect x="9.6" y="1.6" width="3" height="2.4" fill="#1e1e1e"/><rect x="9.6" y="5.25" width="3" height="2.4" fill="#1e1e1e"/><rect x="9.6" y="8.9" width="3" height="2.4" fill="#1e1e1e"/></svg><svg class="b" style="left:1037.4px;top:599.6px;" width="14.4" height="12" viewBox="0 0 14.4 12"><rect x="0" y="0.2" width="2.4" height="2.4" rx="0.6" fill="#a0a0a0"/><rect x="4.4" y="0.6" width="10" height="1.7" rx="0.5" fill="#a0a0a0"/><rect x="0" y="4.7" width="2.4" height="2.4" rx="0.6" fill="#a0a0a0"/><rect x="4.4" y="5.1" width="10" height="1.7" rx="0.5" fill="#a0a0a0"/><rect x="0" y="9.2" width="2.4" height="2.4" rx="0.6" fill="#a0a0a0"/><rect x="4.4" y="9.6" width="10" height="1.7" rx="0.5" fill="#a0a0a0"/></svg><svg class="b" style="left:1058.4px;top:599.2px;" width="13" height="12.8" viewBox="0 0 13 12.8"><path d="M0.9 4.4 V0.9 H4.4 M8.6 0.9 H12.1 V4.4 M12.1 8.4 V11.9 H8.6 M4.4 11.9 H0.9 V8.4" fill="none" stroke="#a0a0a0" stroke-width="1.7"/></svg>
<svg class="b" style="left:1084.3px;top:599.3px;" width="11.4" height="11.4" viewBox="0 0 12 12"><circle cx="6" cy="6" r="6" fill="#8a8a8a"/><path d="M4.1 4.1 L7.9 7.9 M7.9 4.1 L4.1 7.9" stroke="#2a2a2a" stroke-width="1.3"/></svg>
<div class="t" style="left:735px;width:800px;text-align:center;top:618.8px;font-size:9.6px;line-height:20px;color:#676767;font-weight:bold;-webkit-text-stroke:0;">event.module, event.dataset (partial)</div>
<svg class="b" style="left:0;top:0;" width="1907" height="764" viewBox="0 0 1907 764" font-family="Liberation Sans, sans-serif"><defs><linearGradient id="g1" x1="0" x2="1" y1="0" y2="0"><stop offset="0" stop-color="#dc143c" stop-opacity=".52"/><stop offset="1" stop-color="#ff0000" stop-opacity=".52"/></linearGradient><linearGradient id="g2" x1="0" x2="1" y1="0" y2="0"><stop offset="0" stop-color="#ff8c00" stop-opacity=".55"/><stop offset="1" stop-color="#ff0000" stop-opacity=".5"/></linearGradient><linearGradient id="g3" x1="0" x2="1" y1="0" y2="0"><stop offset="0" stop-color="#ff4500" stop-opacity=".45"/><stop offset="1" stop-color="#ff0000" stop-opacity=".45"/></linearGradient><linearGradient id="g4" x1="0" x2="1" y1="0" y2="0"><stop offset="0" stop-color="#ff8c00" stop-opacity=".5"/><stop offset="1" stop-color="#dc143c" stop-opacity=".5"/></linearGradient><linearGradient id="g5" x1="0" x2="1" y1="0" y2="0"><stop offset="0" stop-color="#ff7f00" stop-opacity=".42"/><stop offset="1" stop-color="#ff2000" stop-opacity=".42"/></linearGradient></defs><path d="M480.4 642.5 C595.8 642.5 595.8 642.5 711.2 642.5 L711.2 692.6 C595.8 692.6 595.8 692.6 480.4 692.6 z" fill="url(#g1)" opacity="1"/><path d="M480.4 692.6 C595.8 692.6 595.8 737.4 711.2 737.4 L711.2 786 C595.8 786 595.8 741.4 480.4 741.4 z" fill="#dc143c" opacity="0.5"/><path d="M480.4 748.6 C595.8 748.6 595.8 692.8 711.2 692.8 L711.2 696.6 C595.8 696.6 595.8 752.4 480.4 752.4 z" fill="url(#g2)" opacity="1"/><path d="M480.4 903 C595.8 903 595.8 696.8 711.2 696.8 L711.2 707 C595.8 707 595.8 935 480.4 935 z" fill="url(#g5)" opacity="1"/><path d="M480.4 945 C595.8 945 595.8 707 711.2 707 L711.2 716.2 C595.8 716.2 595.8 975 480.4 975 z" fill="url(#g3)" opacity="1"/><path d="M480.4 985 C595.8 985 595.8 716 711.2 716 L711.2 724.2 C595.8 724.2 595.8 1007 480.4 1007 z" fill="url(#g3)" opacity="1"/><path d="M480.4 1015 C595.8 1015 595.8 724 711.2 724 L711.2 730 C595.8 730 595.8 1030 480.4 1030 z" fill="url(#g3)" opacity="1"/><path d="M480.4 752.6 C595.8 752.6 595.8 786 711.2 786 L711.2 823 C595.8 823 595.8 790 480.4 790 z" fill="url(#g4)" opacity="1"/><rect x="472.2" y="642.4" width="8.2" height="99.2" fill="#dc143c" stroke="#4a74a8" stroke-width="0.6"/><rect x="472.2" y="748.4" width="8.2" height="60" fill="#ff8c00" stroke="#4a74a8" stroke-width="0.6"/><rect x="711.2" y="642.4" width="8.8" height="87.8" fill="#ff0000" stroke="#4a74a8" stroke-width="0.6"/><rect x="711.2" y="737.2" width="8.8" height="60" fill="#dc143c" stroke="#4a74a8" stroke-width="0.6"/><text x="484.6" y="695.2" font-size="9.6" fill="#fff">file</text><text x="707.8" y="689" font-size="9.6" fill="#fff" text-anchor="end">windows</text><rect x="1023.6" y="642.5" width="231" height="160" fill="#dc143c" opacity="0.5"/><rect x="1015.4" y="642.4" width="8.2" height="160" fill="#dc143c" stroke="#4a74a8" stroke-width="0.6"/><rect x="1254.4" y="642.4" width="8.4" height="160" fill="#dc143c" stroke="#4a74a8" stroke-width="0.6"/><text x="1027.6" y="714" font-size="9.6" fill="#fff">system</text><text x="1250.4" y="712.2" font-size="9.6" fill="#fff" text-anchor="end">system.syslog</text></svg>
<div class="b" style="left:3px;top:764px;width:1901px;height:32px;background:#12110d;z-index:8;"></div>
<div class="t" style="left:16px;top:769.5px;font-size:12.7px;line-height:20px;color:#fff;font-weight:normal;z-index:9;">Version: 2.4.141</div>
<div class="t" style="left:559.3px;width:800px;text-align:center;top:769.5px;font-size:12.75px;line-height:20px;color:#fff;font-weight:normal;z-index:9;">© 2025 <span style="color:#4ba6f0">Security Onion Solutions, LLC</span></div>
<div class="t" style="right:16px;top:769.5px;font-size:12.75px;line-height:20px;color:#4ba6f0;font-weight:normal;z-index:9;">License:ELv2</div>
<div class="b" style="left:248px;top:796px;width:48px;height:1px;background:#3a3a3a;z-index:9;"></div>
<div class="b" style="left:0px;top:0px;width:1px;height:1px;background:#cfcfcf;"></div>
<div class="b" style="left:1906px;top:0px;width:1px;height:1px;background:#cfcfcf;"></div>
<div class="b" style="left:0px;top:798px;width:1px;height:1px;background:#8a8a8a;"></div>
<div class="b" style="left:1906px;top:798px;width:1px;height:1px;background:#8a8a8a;"></div>
</body></html>
